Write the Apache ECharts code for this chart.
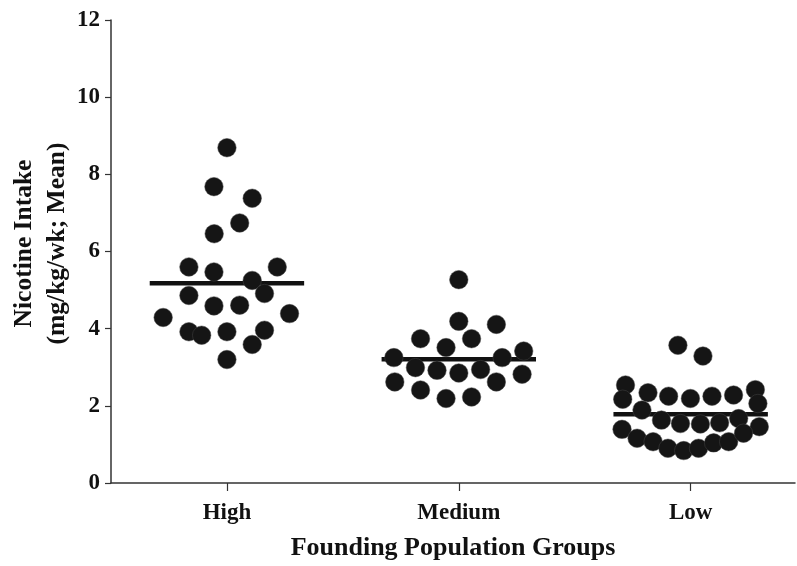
<!DOCTYPE html>
<html><head><meta charset="utf-8">
<script src="https://cdn.jsdelivr.net/npm/echarts@6/dist/echarts.min.js"></script>
<style>html,body{margin:0;padding:0;background:#fff}#c{width:797px;height:566px}</style>
</head><body><div id="c"></div>
<script>
const categories = ['High', 'Medium', 'Low'];
const yTicks = [0, 2, 4, 6, 8, 10, 12];
// x = category position (1,2,3) plus horizontal scatter offset; y = intake
const highX = [1.0, 0.944, 1.109, 1.055, 0.945, 0.836, 0.944, 1.217, 1.109, 0.836, 1.162, 0.944, 1.055, 0.725, 1.27, 0.836, 0.891, 1.0, 1.162, 1.109, 1.0];
const highY = [8.69, 7.68, 7.38, 6.74, 6.46, 5.60, 5.47, 5.60, 5.25, 4.86, 4.91, 4.59, 4.61, 4.29, 4.39, 3.92, 3.83, 3.92, 3.96, 3.59, 3.20];
const medX = [2.0, 2.0, 2.162, 1.835, 2.055, 1.945, 1.72, 2.187, 2.28, 1.813, 1.906, 2.0, 2.094, 1.724, 2.273, 2.162, 1.835, 1.945, 2.055];
const medY = [5.27, 4.19, 4.11, 3.74, 3.74, 3.51, 3.25, 3.25, 3.42, 2.99, 2.92, 2.85, 2.94, 2.62, 2.82, 2.62, 2.41, 2.19, 2.23];
const lowX = [2.945, 3.053, 2.719, 2.707, 2.816, 2.905, 2.999, 3.092, 3.185, 3.279, 3.29, 2.79, 2.874, 2.956, 3.042, 3.125, 3.207, 2.704, 3.296, 2.769, 2.838, 2.902, 2.97, 3.034, 3.099, 3.164, 3.228];
const lowY = [3.57, 3.29, 2.54, 2.17, 2.34, 2.25, 2.19, 2.25, 2.28, 2.42, 2.06, 1.89, 1.63, 1.54, 1.53, 1.56, 1.67, 1.39, 1.46, 1.16, 1.07, 0.90, 0.84, 0.90, 1.04, 1.07, 1.29];
const means = [5.18, 3.21, 1.78];
const meanHalfWidth = 0.333;

const zip = (xs, ys) => xs.map((x, i) => [x, ys[i]]);
const font = 'Liberation Serif';
const dotStyle = { color: '#151515', borderColor: '#444', borderWidth: 0.5, opacity: 1 };

const meanSeries = means.map((m, i) => ({
  type: 'line', data: [[i + 1 - meanHalfWidth, m], [i + 1 + meanHalfWidth, m]],
  symbol: 'none', lineStyle: { color: '#111', width: 4.5 }, z: 1, silent: true
}));
const dotSeries = [zip(highX, highY), zip(medX, medY), zip(lowX, lowY)].map(d => ({
  type: 'scatter', data: d, symbolSize: 18.5, itemStyle: dotStyle, z: 3
}));

const chart = echarts.init(document.getElementById('c'));
chart.setOption({
  animation: false,
  grid: { left: 111, right: 2, top: 20, bottom: 83, outerBoundsMode: 'none', containLabel: false },
  xAxis: {
    type: 'value', min: 0.5, max: 3.45,
    axisLine: { lineStyle: { color: '#333', width: 1.5 } },
    axisTick: { show: true, customValues: [1, 2, 3], length: 8, lineStyle: { color: '#333', width: 1.2 } },
    axisLabel: { customValues: [1, 2, 3], formatter: v => categories[Math.round(v) - 1], margin: 19,
      fontFamily: font, fontWeight: 'bold', fontSize: 23, color: '#111' },
    splitLine: { show: false },
    name: 'Founding Population Groups', nameLocation: 'middle', nameGap: 52, nameMoveOverlap: false,
    nameTextStyle: { fontFamily: font, fontWeight: 'bold', fontSize: 26, color: '#111' }
  },
  yAxis: {
    type: 'value', min: 0, max: 12, interval: 2,
    axisLine: { show: true, lineStyle: { color: '#333', width: 1.5 } },
    axisTick: { show: true, length: 6, lineStyle: { color: '#333', width: 1.2 } },
    axisLabel: { margin: 11, fontFamily: font, fontWeight: 'bold', fontSize: 23, color: '#111',
      customValues: yTicks },
    splitLine: { show: false },
    name: 'Nicotine Intake\n(mg/kg/wk; Mean)', nameLocation: 'middle', nameGap: 37, nameRotate: 90,
    nameMoveOverlap: false,
    nameTextStyle: { fontFamily: font, fontWeight: 'bold', fontSize: 25.5, color: '#111', lineHeight: 33,
      padding: [0, 0, 0, 16] }
  },
  series: [...meanSeries, ...dotSeries]
});
</script></body></html>
